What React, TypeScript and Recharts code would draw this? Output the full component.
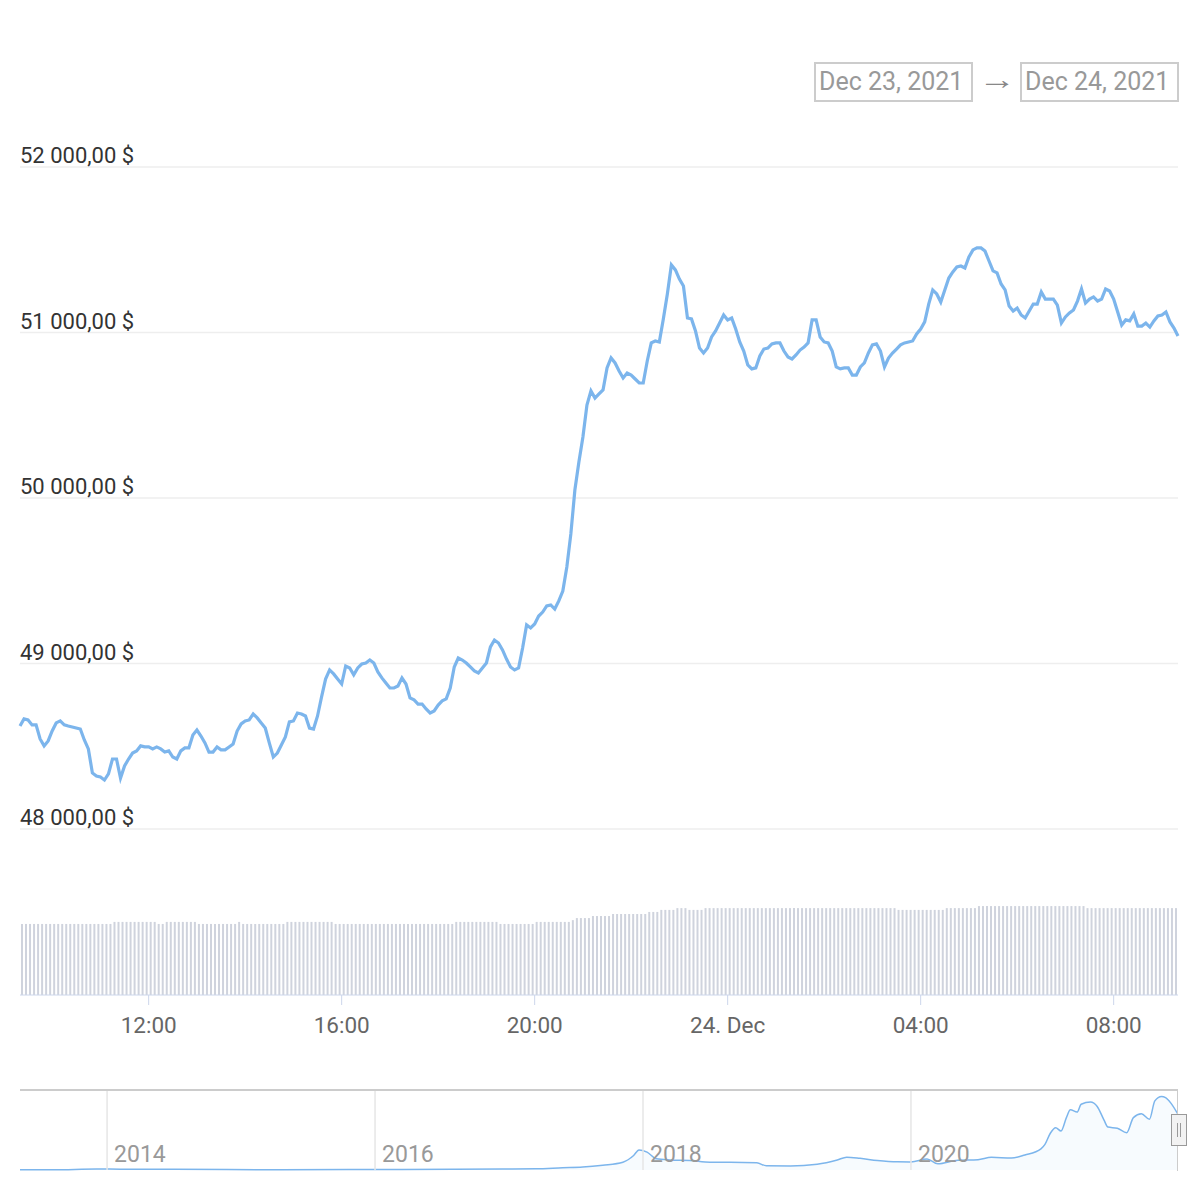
import React from "react"
import {
  LineChart,
  Line,
  BarChart,
  Bar,
  AreaChart,
  Area,
  XAxis,
  YAxis,
  CartesianGrid,
} from "recharts"

// 5-minute samples, Dec 23 09:20 -> Dec 24 09:20 (hours counted from Dec 23 00:00)
const START_HOUR = 9 + 20 / 60
const STEP_HOUR = 5 / 60
const END_HOUR = START_HOUR + 24

const prices = [
  48622, 48665, 48659, 48629, 48629, 48544, 48502, 48532, 48592, 48641, 48653, 48629,
  48622, 48616, 48610, 48604, 48538, 48484, 48339, 48320, 48314, 48296, 48333, 48423,
  48423, 48308, 48381, 48423, 48459, 48472, 48502, 48496, 48496, 48484, 48496, 48484,
  48465, 48472, 48435, 48423, 48472, 48490, 48490, 48568, 48598, 48562, 48520, 48465,
  48465, 48496, 48478, 48478, 48496, 48514, 48592, 48635, 48653, 48659, 48695, 48671,
  48641, 48610, 48520, 48435, 48459, 48508, 48556, 48647, 48653, 48701, 48695, 48683,
  48610, 48604, 48683, 48798, 48906, 48961, 48937, 48906, 48876, 48985, 48973, 48931,
  48973, 48997, 49003, 49021, 49003, 48949, 48913, 48882, 48852, 48852, 48864, 48913,
  48876, 48792, 48780, 48755, 48755, 48725, 48701, 48713, 48749, 48774, 48786, 48852,
  48979, 49033, 49021, 49003, 48979, 48955, 48943, 48973, 49003, 49100, 49142, 49124,
  49082, 49027, 48979, 48961, 48973, 49094, 49233, 49215, 49239, 49287, 49311, 49348,
  49354, 49329, 49378, 49438, 49583, 49783, 50048, 50218, 50369, 50562, 50647, 50604,
  50629, 50653, 50786, 50846, 50816, 50767, 50725, 50755, 50743, 50719, 50695, 50695,
  50828, 50937, 50949, 50943, 51082, 51233, 51408, 51378, 51323, 51281, 51088, 51082,
  51009, 50906, 50876, 50906, 50973, 51009, 51057, 51106, 51076, 51088, 51021, 50943,
  50888, 50804, 50780, 50786, 50858, 50900, 50906, 50931, 50937, 50937, 50888, 50852,
  50840, 50864, 50894, 50912, 50937, 51076, 51076, 50973, 50943, 50937, 50888, 50792,
  50780, 50786, 50786, 50743, 50743, 50792, 50816, 50876, 50925, 50931, 50888, 50792,
  50846, 50876, 50900, 50925, 50937, 50943, 50949, 50991, 51021, 51064, 51172, 51257,
  51233, 51184, 51257, 51329, 51366, 51396, 51402, 51390, 51456, 51499, 51511, 51511,
  51492, 51432, 51372, 51360, 51293, 51257, 51160, 51130, 51148, 51106, 51088, 51130,
  51172, 51172, 51245, 51202, 51202, 51202, 51166, 51057, 51094, 51118, 51136, 51190,
  51263, 51178, 51202, 51215, 51190, 51202, 51263, 51251, 51202, 51124, 51045, 51076,
  51070, 51112, 51039, 51039, 51057, 51033, 51070, 51100, 51106, 51124, 51064, 51027, 50979,
]

// volume per 5-minute bar (bn $)
const volume = [
  27.8, 27.8, 27.8, 27.8, 27.8, 27.8, 27.8, 27.8, 27.8, 27.8, 27.8, 27.8,
  27.8, 27.8, 27.8, 27.8, 27.8, 27.8, 27.8, 27.8, 27.8, 27.8, 27.8,
  28.6, 28.6, 28.6, 28.6, 28.6, 28.6, 28.6, 28.6, 28.6, 28.6, 28.6,
  27.8, 27.8,
  28.6, 28.6, 28.6, 28.6, 28.6, 28.6, 28.6, 28.6,
  27.8, 27.8, 27.8, 27.8, 27.8, 27.8, 27.8, 27.8, 27.8, 27.8,
  28.6,
  27.8, 27.8, 27.8, 27.8, 27.8, 27.8, 27.8, 27.8, 27.8, 27.8, 27.8,
  28.6, 28.6, 28.6, 28.6, 28.6, 28.6, 28.6, 28.6, 28.6, 28.6, 28.6, 28.6,
  27.8, 27.8, 27.8, 27.8, 27.8, 27.8, 27.8, 27.8, 27.8, 27.8,
  27.8, 27.8, 27.8, 27.8, 27.8, 27.8, 27.8, 27.8, 27.8, 27.8,
  27.8, 27.8, 27.8, 27.8, 27.8, 27.8, 27.8, 27.8, 27.8, 27.8,
  28.6, 28.6, 28.6, 28.6, 28.6, 28.6, 28.6, 28.6, 28.6, 28.6, 28.6,
  27.8, 27.8, 27.8, 27.8, 27.8, 27.8, 27.8, 27.8, 27.8,
  28.6, 28.6, 28.6, 28.6, 28.6, 28.6, 28.6, 28.6, 28.6,
  29.3,
  30.1, 30.1, 30.1, 30.1,
  30.9, 30.9, 30.9, 30.9, 30.9,
  31.7, 31.7, 31.7, 31.7, 31.7, 31.7, 31.7, 31.7, 31.7,
  32.5, 32.5, 32.5,
  33.3, 33.3, 33.3, 33.3,
  34.0, 34.0, 34.0,
  33.3, 33.3, 33.3, 33.3,
  34.0, 34.0, 34.0, 34.0, 34.0, 34.0, 34.0, 34.0, 34.0, 34.0, 34.0, 34.0,
  34.0, 34.0, 34.0, 34.0, 34.0, 34.0, 34.0, 34.0, 34.0, 34.0, 34.0, 34.0,
  34.0, 34.0, 34.0, 34.0, 34.0, 34.0, 34.0, 34.0, 34.0, 34.0, 34.0, 34.0,
  34.0, 34.0, 34.0, 34.0, 34.0, 34.0, 34.0, 34.0, 34.0, 34.0, 34.0, 34.0,
  33.3, 33.3, 33.3, 33.3, 33.3, 33.3, 33.3, 33.3, 33.3, 33.3, 33.3, 33.3,
  34.0, 34.0, 34.0, 34.0, 34.0, 34.0, 34.0, 34.0,
  34.8, 34.8, 34.8, 34.8, 34.8, 34.8, 34.8, 34.8, 34.8, 34.8, 34.8, 34.8,
  34.8, 34.8, 34.8, 34.8, 34.8, 34.8, 34.8, 34.8, 34.8, 34.8, 34.8, 34.8,
  34.8, 34.8, 34.8,
  34.0, 34.0, 34.0, 34.0, 34.0, 34.0, 34.0, 34.0, 34.0, 34.0, 34.0, 34.0,
  34.0, 34.0, 34.0, 34.0, 34.0, 34.0, 34.0, 34.0, 34.0, 34.0, 34.0,
]

const priceTicks = [48000, 49000, 50000, 51000, 52000]
const timeTicks = [12, 16, 20, 24, 28, 32]

// navigator: whole history, x in fractional years
const navYears = [
  2013.35, 2013.6, 2013.92, 2014.1, 2014.5, 2014.9, 2015.3, 2015.8, 2016.2, 2016.6,
  2016.95, 2017.2, 2017.4, 2017.55, 2017.7, 2017.85, 2017.93, 2017.97, 2018.03, 2018.1,
  2018.2, 2018.35, 2018.5, 2018.65, 2018.85, 2018.92, 2019.1, 2019.3, 2019.45, 2019.52,
  2019.62, 2019.75, 2019.9, 2020.0, 2020.12, 2020.2, 2020.35, 2020.5, 2020.6, 2020.75,
  2020.85, 2020.97, 2021.0, 2021.04, 2021.08, 2021.12, 2021.16, 2021.19, 2021.24, 2021.27,
  2021.34, 2021.39, 2021.44, 2021.47, 2021.54, 2021.61, 2021.66, 2021.72, 2021.78, 2021.82,
  2021.87, 2021.9, 2021.94, 2021.99,
]
const navPrices = [
  130, 120, 900, 700, 600, 350, 240, 380, 420, 620,
  900, 1100, 2000, 2600, 4300, 7000, 13000, 18000, 16000, 10000,
  9000, 8500, 7000, 7000, 6400, 3800, 3700, 5200, 9000, 11500,
  10500, 8500, 7300, 7200, 9800, 5500, 8800, 9300, 11500, 10700,
  13500, 19000, 23000, 33000, 38000, 35000, 47000, 54000, 52000, 59000,
  61000, 57000, 45000, 38500, 37500, 33500, 47000, 50500, 45500, 62000,
  66000, 65000, 60000, 50500,
]
const navTicks = [2014, 2016, 2018, 2020]

const FONT = "Roboto, 'Noto Sans', sans-serif"
const BLUE = "#7cb5ec"

const priceData = prices.map((p, i) => ({ t: START_HOUR + i * STEP_HOUR, price: p }))
const volumeData = volume.map((v, i) => ({ t: START_HOUR + (i + 0.5) * STEP_HOUR, vol: v }))
const navData = navYears.map((y, i) => ({ year: y, price: navPrices[i] }))

const formatPrice = (v: number) => {
  const whole = Math.round(v).toString().replace(/\B(?=(\d{3})+(?!\d))/g, " ")
  return `${whole},00 $`
}

const formatHour = (h: number) => {
  if (h === 24) return "24. Dec"
  const hh = h % 24
  return `${hh < 10 ? "0" : ""}${hh}:00`
}

const PriceTick = (props: any) => {
  const { y, payload } = props
  return (
    <text x={20} y={y - 4} fill="#333333" fontSize={22} fontFamily={FONT} textAnchor="start">
      {formatPrice(payload.value)}
    </text>
  )
}

const TimeTick = (props: any) => {
  const { x, payload } = props
  return (
    <text x={x} y={163} fill="#666666" fontSize={22.5} fontFamily={FONT} textAnchor="middle">
      {formatHour(payload.value)}
    </text>
  )
}

const YearTick = (props: any) => {
  const { x, payload } = props
  return (
    <g>
      <line x1={x} x2={x} y1={5} y2={85} stroke="#e6e6e6" strokeWidth={1.5} />
      <text x={x + 7} y={77} fill="#999999" fontSize={23} fontFamily={FONT} textAnchor="start">
        {payload.value}
      </text>
    </g>
  )
}

const dateBox: React.CSSProperties = {
  position: "absolute",
  top: 62,
  width: 152,
  height: 36,
  border: "2px solid #cccccc",
  color: "#999999",
  fontFamily: FONT,
  fontSize: 25,
  lineHeight: "36px",
  paddingLeft: 3,
  boxSizing: "content-box",
  whiteSpace: "nowrap",
}

export default function App() {
  return (
    <div style={{ position: "absolute", left: 0, top: 0, width: 1200, height: 1200, background: "#fff" }}>
      <div style={{ ...dateBox, left: 814 }}>Dec 23, 2021</div>
      <div
        style={{
          position: "absolute",
          left: 978,
          top: 60,
          height: 40,
          lineHeight: "40px",
          fontSize: 28,
          fontFamily: FONT,
          color: "#888888",
          transform: "scaleX(1.35)",
          transformOrigin: "left center",
        }}
      >
        →
      </div>
      <div style={{ ...dateBox, left: 1020 }}>Dec 24, 2021</div>

      <div style={{ position: "absolute", left: 0, top: 0 }}>
        <LineChart width={1200} height={850} data={priceData} margin={{ top: 167, right: 22, bottom: 21, left: 20 }}>
          <CartesianGrid vertical={false} stroke="#eeeeee" strokeWidth={1.5} />
          <XAxis dataKey="t" type="number" domain={[START_HOUR, END_HOUR]} hide />
          <YAxis
            type="number"
            domain={[48000, 52000]}
            ticks={priceTicks}
            mirror
            width={2}
            axisLine={false}
            tickLine={false}
            tick={<PriceTick />}
            interval={0}
          />
          <Line
            type="linear"
            dataKey="price"
            stroke={BLUE}
            strokeWidth={3.2}
            dot={false}
            isAnimationActive={false}
          />
        </LineChart>
      </div>

      <div style={{ position: "absolute", left: 0, top: 870 }}>
        <BarChart width={1200} height={190} data={volumeData} margin={{ top: 10, right: 22, bottom: 0, left: 20 }}>
          <XAxis
            dataKey="t"
            type="number"
            domain={[START_HOUR, END_HOUR]}
            ticks={timeTicks}
            interval={0}
            height={65}
            stroke="#ccd6eb"
            tickSize={10}
            tick={<TimeTick />}
          />
          <YAxis type="number" domain={[0, 45]} hide width={0} />
          <Bar dataKey="vol" fill="#cfd3dd" barSize={2} isAnimationActive={false} />
        </BarChart>
      </div>

      <div style={{ position: "absolute", left: 0, top: 1085 }}>
        <AreaChart width={1200} height={90} data={navData} margin={{ top: 7, right: 22, bottom: 4, left: 20 }}>
          <XAxis
            dataKey="year"
            type="number"
            domain={[2013.35, 2021.993]}
            ticks={navTicks}
            interval={0}
            height={1}
            axisLine={false}
            tickLine={false}
            tick={<YearTick />}
          />
          <YAxis type="number" domain={[0, 70000]} hide width={0} />
          <Area
            type="monotone"
            dataKey="price"
            stroke={BLUE}
            strokeWidth={1.5}
            fill={BLUE}
            fillOpacity={0.06}
            isAnimationActive={false}
          />
        </AreaChart>
      </div>

      {/* navigator outline and handle */}
      <div style={{ position: "absolute", left: 20, top: 1089, width: 1158, height: 2, background: "#cccccc" }} />
      <div style={{ position: "absolute", left: 1177, top: 1089, width: 1, height: 82, background: "#cccccc" }} />
      <div
        style={{
          position: "absolute",
          left: 1171,
          top: 1114,
          width: 14,
          height: 30,
          background: "#f2f2f2",
          border: "1px solid #999999",
        }}
      >
        <div style={{ position: "absolute", left: 5, top: 8, width: 1, height: 14, background: "#999999" }} />
        <div style={{ position: "absolute", left: 8, top: 8, width: 1, height: 14, background: "#999999" }} />
      </div>
    </div>
  )
}
